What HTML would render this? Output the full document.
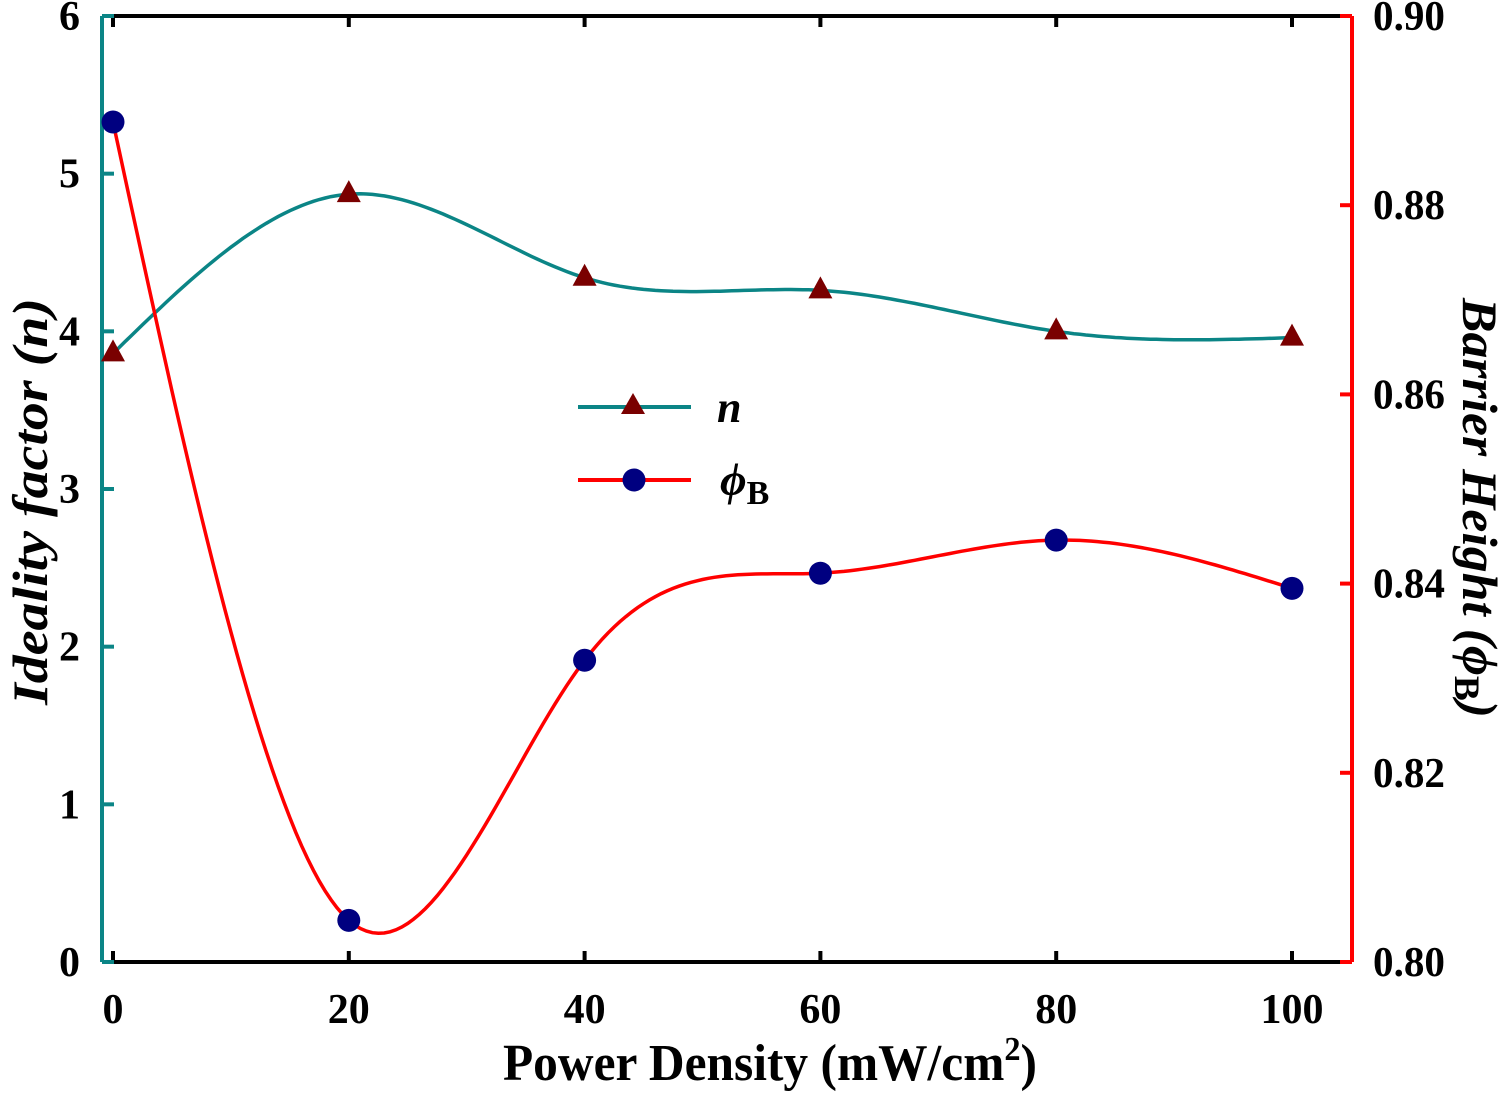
<!DOCTYPE html>
<html><head><meta charset="utf-8"><style>
html,body{margin:0;padding:0;background:#fff}
svg text{font-family:"Liberation Serif","Times New Roman",serif;font-weight:bold;fill:#000}
</style></head><body>
<svg id="chart" width="1502" height="1092" xmlns="http://www.w3.org/2000/svg" font-family="Liberation Serif, serif"></svg>
<script>
const xValues=[0,20,40,60,80,100];
const nValues=[3.86,4.87,4.34,4.26,4.00,3.96];
const phiValues=[0.8888,0.8044,0.8319,0.8411,0.8446,0.8395];
const xTicks=[0,20,40,60,80,100];
const yLeftTicks=[0,1,2,3,4,5,6];
const yRightTicks=[0.80,0.82,0.84,0.86,0.88,0.90];

const L=102,R=1352,T=16,B=962;
const sx=v=>113+(v-0)*(1292-113)/100;
const syL=v=>B-v*(B-T)/6;
const syR=v=>B-(v-0.80)*(B-T)/0.10;
const svg=document.getElementById('chart');
const NS='http://www.w3.org/2000/svg';
function mk(tag,attrs,parent){const e=document.createElementNS(NS,tag);for(const k in attrs)e.setAttribute(k,attrs[k]);(parent||svg).appendChild(e);return e;}

function spline(xs,ys){
  const n=xs.length,h=[],a=[],l=[1],mu=[0],z=[0],c=new Array(n).fill(0),b=[],d=[];
  for(let i=0;i<n-1;i++)h[i]=xs[i+1]-xs[i];
  for(let i=1;i<n-1;i++)a[i]=3/h[i]*(ys[i+1]-ys[i])-3/h[i-1]*(ys[i]-ys[i-1]);
  for(let i=1;i<n-1;i++){l[i]=2*(xs[i+1]-xs[i-1])-h[i-1]*mu[i-1];mu[i]=h[i]/l[i];z[i]=(a[i]-h[i-1]*z[i-1])/l[i];}
  l[n-1]=1;z[n-1]=0;
  for(let j=n-2;j>=0;j--){c[j]=z[j]-mu[j]*c[j+1];b[j]=(ys[j+1]-ys[j])/h[j]-h[j]*(c[j+1]+2*c[j])/3;d[j]=(c[j+1]-c[j])/(3*h[j]);}
  return t=>{let i=Math.min(n-2,Math.max(0,xs.findIndex((x,k)=>k<n-1&&t>=x&&t<=xs[k+1])));const dx=t-xs[i];return ys[i]+b[i]*dx+c[i]*dx*dx+d[i]*dx*dx*dx;};
}
function curve(ys,sy,color,name){
  const f=spline(xValues,ys);let p='';
  for(let t=xValues[0];t<=xValues[xValues.length-1]+1e-9;t+=0.5)p+=(p?'L':'M')+sx(t).toFixed(1)+','+sy(f(t)).toFixed(1);
  const e=mk('path',{d:p,fill:'none',stroke:color,'stroke-width':3.5});
  
  
}
const FF='Liberation Serif, serif';
const ax=mk('g',{});


mk('line',{x1:L,y1:T,x2:R,y2:T,stroke:'#000','stroke-width':4},ax);
mk('line',{x1:L,y1:B,x2:R,y2:B,stroke:'#000','stroke-width':4},ax);
mk('line',{x1:L,y1:T,x2:L,y2:B,stroke:'#0b8586','stroke-width':4},ax);
mk('line',{x1:R,y1:T,x2:R,y2:B,stroke:'#f00','stroke-width':4},ax);
xTicks.forEach(v=>{
  mk('line',{x1:sx(v),y1:B,x2:sx(v),y2:B-11,stroke:'#000','stroke-width':4},ax);
  mk('line',{x1:sx(v),y1:T,x2:sx(v),y2:T+11,stroke:'#000','stroke-width':4},ax);
  const t=mk('text',{x:sx(v),y:1023,'text-anchor':'middle','font-size':42,'font-family':FF},ax);t.textContent=v;
  
  
});
yLeftTicks.forEach(v=>{
  mk('line',{x1:L,y1:syL(v),x2:L+12,y2:syL(v),stroke:'#0b8586','stroke-width':4},ax);
  const t=mk('text',{x:80,y:syL(v)+14,'text-anchor':'end','font-size':42,'font-family':FF},ax);t.textContent=v;
  
  
});
yRightTicks.forEach(v=>{
  mk('line',{x1:R,y1:syR(v),x2:R-12,y2:syR(v),stroke:'#f00','stroke-width':4},ax);
  const t=mk('text',{x:1373,y:syR(v)+14,'font-size':42,'font-family':FF,textLength:72,lengthAdjust:'spacingAndGlyphs'},ax);t.textContent=v.toFixed(2);
  
  
});
curve(nValues,syL,'#0b8586','n-curve');
curve(phiValues,syR,'#f00','phi-curve');
function tri(cx,cy,name){const e=mk('polygon',{points:`${cx-12},${cy+8} ${cx+12},${cy+8} ${cx},${cy-14}`,fill:'#7a0000'});
  
  }
function dot(cx,cy,name){const e=mk('circle',{cx:cx,cy:cy,r:11.5,fill:'#000080'});
  
  }
xValues.forEach((x,i)=>{tri(sx(x),syL(nValues[i]),'n-point');dot(sx(x),syR(phiValues[i]),'phi-point');});
</script>
<script>
const s2=document.getElementById('chart');
s2.insertAdjacentHTML('beforeend',`
<g font-family="Liberation Serif, serif">
 <line x1="578" y1="407" x2="691" y2="407" stroke="#0b8586" stroke-width="4"/>
 <polygon points="621,414 645,414 633,393" fill="#7a0000"/>
 <text x="717" y="422" font-size="44" font-style="italic">n</text>
 <line x1="578" y1="480" x2="691" y2="480" stroke="#f00" stroke-width="4"/>
 <circle cx="634" cy="480" r="11.5" fill="#000080"/>
 <text x="720" y="495" font-size="46" font-style="italic">ϕ<tspan font-style="normal" font-size="34" dy="9">B</tspan></text>
</g>
<text font-family="Liberation Serif, serif" x="503" y="1080" font-size="52" textLength="534" lengthAdjust="spacingAndGlyphs">Power Density (mW/cm<tspan font-size="34" dy="-20">2</tspan><tspan dy="20">)</tspan></text>
<text font-family="Liberation Serif, serif" transform="translate(47,705) rotate(-90)" font-size="50" font-style="italic" textLength="407" lengthAdjust="spacingAndGlyphs">Ideality factor (n)</text>
<text font-family="Liberation Serif, serif" transform="translate(1463,298) rotate(90)" font-size="50" font-style="italic" textLength="420" lengthAdjust="spacingAndGlyphs">Barrier Height (ϕ<tspan font-style="normal" font-size="36" dy="8">B</tspan><tspan dy="-8">)</tspan></text>
`);
</script>
</body></html>
